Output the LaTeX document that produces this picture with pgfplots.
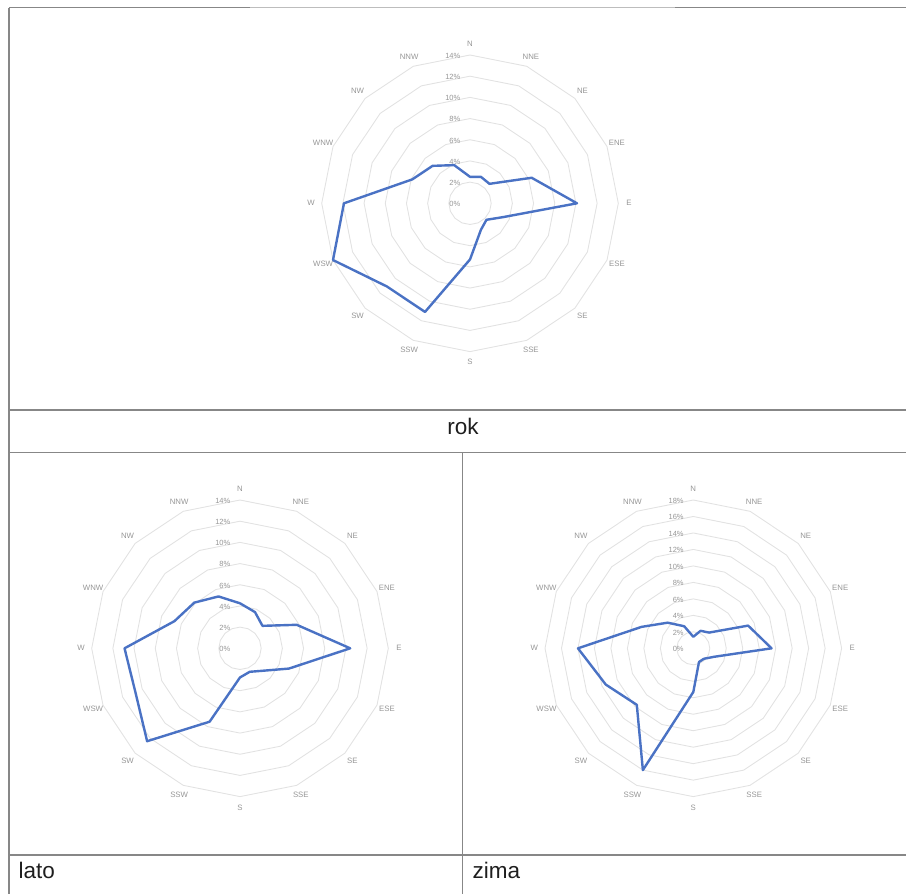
\documentclass[border=0pt]{standalone}
\usepackage{pgfplots}
\pgfplotsset{compat=1.18}
\usepackage{fontspec}
\setmainfont{Liberation Sans}

\definecolor{ringc}{RGB}{226,226,226}
\definecolor{labc}{RGB}{150,150,150}
\definecolor{radar}{RGB}{74,114,196}
\definecolor{rulec}{RGB}{135,135,135}
\definecolor{captc}{RGB}{30,30,30}

\pgfplotsset{
  radarax/.style={anchor=center, hide axis, clip=false, data cs=polar,
    xmin=-20, xmax=20, ymin=-20, ymax=20},
  radarline/.style={radar, line width=2.4bp, line join=round, line cap=round, mark=none},
}

% grid of one radar: centre x, centre y (px from top), rings, step in %
\newcommand{\radargrid}[4]{%
  \begin{scope}[shift={(#1bp,-#2bp)}]
    \foreach \k in {1,...,#3}{
      \pgfmathsetmacro{\rr}{148.3*\k/#3}
      \draw[ringc, line width=0.9bp] (0:\rr bp)
        \foreach \a in {22.5,45,...,337.5}{ -- (\a:\rr bp)} -- cycle;
    }
    \foreach \k in {0,...,#3}{
      \pgfmathsetmacro{\rr}{148.3*\k/#3}
      \pgfmathtruncatemacro{\pv}{#4*\k}
      \node[pctlab] at (-9.5bp,\rr bp-0.8bp) {\pv\%};
    }
    \foreach \dn [count=\i from 0] in {N,NNE,NE,ENE,E,ESE,SE,SSE,S,SSW,SW,WSW,W,WNW,NW,NNW}{
      \pgfmathsetmacro{\ang}{90-22.5*\i}
      \node[dirlab] at (\ang:159bp) {\dn};
    }
  \end{scope}}

\begin{document}
\begin{tikzpicture}[x=1bp, y=1bp,
  pctlab/.style={anchor=east, inner sep=0pt, text=labc, font=\fontsize{7.5bp}{9bp}\selectfont},
  dirlab/.style={inner sep=0pt, text=labc, font=\fontsize{7.8bp}{9bp}\selectfont},
  captxt/.style={inner sep=0pt, text=captc, font=\fontsize{22.5bp}{26bp}\selectfont}]
\path[use as bounding box] (0,0) rectangle (906,-894);

% table rules
\draw[rulec!55, line width=1.3bp] (9,-7.5) -- (906,-7.5);
\draw[rulec, line width=1.3bp] (9,-7.5) -- (250,-7.5);
\draw[rulec, line width=1.3bp] (675,-7.5) -- (906,-7.5);
\draw[rulec, line width=1.3bp] (9,-7.5) -- (9,-894);
\draw[rulec, line width=1.3bp] (9,-410) -- (906,-410);
\draw[rulec, line width=1.3bp] (9,-452.7) -- (906,-452.7);
\draw[rulec, line width=1.3bp] (9,-855) -- (906,-855);
\draw[rulec, line width=1.3bp] (462.7,-452.7) -- (462.7,-894);

\node[captxt, anchor=base] at (463,-434.3) {rok};
\node[captxt, anchor=base west] at (18.5,-878.3) {lato};
\node[captxt, anchor=base west] at (472.5,-878.3) {zima};

% rok
\radargrid{470}{203.3}{7}{2}
\begin{axis}[radarax, at={(470bp,-203.3bp)}, x=10.593bp, y=10.593bp]
\addplot[radarline] coordinates {
  (90,2.5) (67.5,2.7) (45,2.6) (22.5,6.3) (0,10.1) (-22.5,3.4) (-45,2.2) (-67.5,2.7)
  (-90,5.3) (-112.5,11.1) (-135,11.1) (-157.5,14.0) (-180,11.9) (-202.5,5.9) (-225,5.0)
  (-247.5,3.9) (-270,2.5)};
\end{axis}

% lato
\radargrid{240}{648.3}{7}{2}
\begin{axis}[radarax, at={(240bp,-648.3bp)}, x=10.593bp, y=10.593bp]
\addplot[radarline] coordinates {
  (90,4.25) (67.5,3.7) (45,3.0) (22.5,5.8) (0,10.4) (-22.5,5.0) (-45,3.0) (-67.5,2.4)
  (-90,2.75) (-112.5,7.5) (-135,12.4) (-157.5,10.7) (-180,10.9) (-202.5,6.7) (-225,6.1)
  (-247.5,5.3) (-270,4.25)};
\end{axis}

% zima
\radargrid{693.3}{648.3}{9}{2}
\begin{axis}[radarax, at={(693.3bp,-648.3bp)}, x=8.239bp, y=8.239bp]
\addplot[radarline] coordinates {
  (90,1.4) (67.5,2.3) (45,2.7) (22.5,7.2) (0,9.5) (-22.5,2.7) (-45,1.8) (-67.5,1.8)
  (-90,5.3) (-112.5,16.0) (-135,9.7) (-157.5,11.5) (-180,14.0) (-202.5,6.8) (-225,4.4)
  (-247.5,2.9) (-270,1.4)};
\end{axis}
\end{tikzpicture}
\end{document}
